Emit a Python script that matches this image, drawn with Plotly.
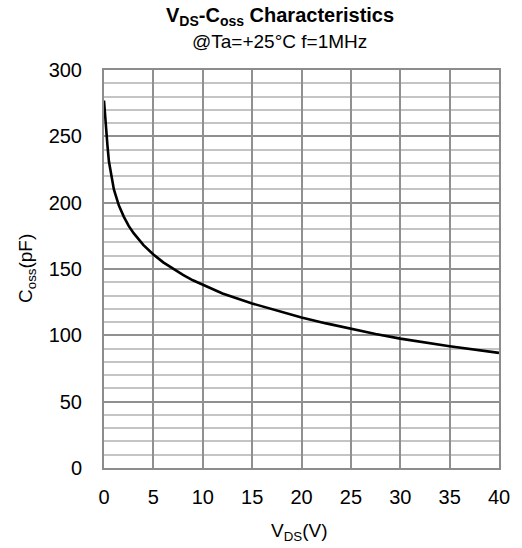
import plotly.graph_objects as go

vds = [0, 0.1, 0.2, 0.35, 0.5, 0.75, 1, 1.5, 2, 2.5, 3, 4, 5, 6, 7, 8, 9, 10, 12, 15, 17.5, 20, 22.5, 25, 27.5, 30, 35, 40]
coss = [277, 265, 256, 243, 231, 219, 210, 198, 189.5, 182.5, 177, 168, 161, 155, 150, 145.5, 141.5, 138, 131.5, 124, 118.5, 113.5, 109, 104.8, 101, 97.5, 91.8, 86.8]

x_ticks = [0, 5, 10, 15, 20, 25, 30, 35, 40]
y_ticks = [0, 50, 100, 150, 200, 250, 300]

FONT = "Liberation Sans, Arial, sans-serif"
W, H = 522, 548
L, R, T, B = 104, 18, 70, 80

fig = go.Figure()
fig.add_trace(go.Scatter(x=vds, y=coss, mode="lines", line=dict(color="black", width=2.6), showlegend=False))

fig.update_layout(
    width=W, height=H,
    margin=dict(l=L, r=R, t=T, b=B),
    paper_bgcolor="white", plot_bgcolor="white",
    font=dict(family=FONT, color="black", size=20),
)
fig.update_xaxes(
    range=[0, 40], tickvals=x_ticks, ticktext=[str(v) for v in x_ticks],
    showgrid=True, gridcolor="#909090", gridwidth=2,
    showline=True, linecolor="#8c8c8c", linewidth=2, mirror=True,
    ticks="", ticklabelstandoff=10, zeroline=False,
    tickfont=dict(size=20, family=FONT),
)
fig.update_yaxes(
    range=[0, 300], tickvals=y_ticks, ticktext=[str(v) for v in y_ticks],
    showgrid=True, gridcolor="#909090", gridwidth=2,
    minor=dict(dtick=10, showgrid=True, gridcolor="#c4c4c4", gridwidth=2),
    showline=True, linecolor="#8c8c8c", linewidth=2, mirror=True,
    ticks="", ticklabelstandoff=16, zeroline=False,
    tickfont=dict(size=20, family=FONT),
)

pw = W - L - R
ph = H - T - B
def px(xp):
    return (xp - L) / pw
def py(yp):
    return (H - B - yp) / ph

fig.add_annotation(text="<b>V<sub>DS</sub>-C<sub>oss</sub> Characteristics</b>", x=px(282), y=py(17),
                   xref="paper", yref="paper", showarrow=False, xanchor="center", yanchor="middle",
                   font=dict(size=20, family=FONT))
fig.add_annotation(text="@Ta=+25°C f=1MHz", x=px(282), y=py(42),
                   xref="paper", yref="paper", showarrow=False, xanchor="center", yanchor="middle",
                   font=dict(size=19, family=FONT))
fig.add_annotation(text="V<sub>DS</sub>(V)", x=px(302), y=py(532),
                   xref="paper", yref="paper", showarrow=False, xanchor="center", yanchor="middle",
                   font=dict(size=19, family=FONT))
fig.add_annotation(text="C<sub>oss</sub>(pF)", x=px(26), y=py(268), textangle=-90,
                   xref="paper", yref="paper", showarrow=False, xanchor="center", yanchor="middle",
                   font=dict(size=19, family=FONT))

fig.write_html("out.html")
